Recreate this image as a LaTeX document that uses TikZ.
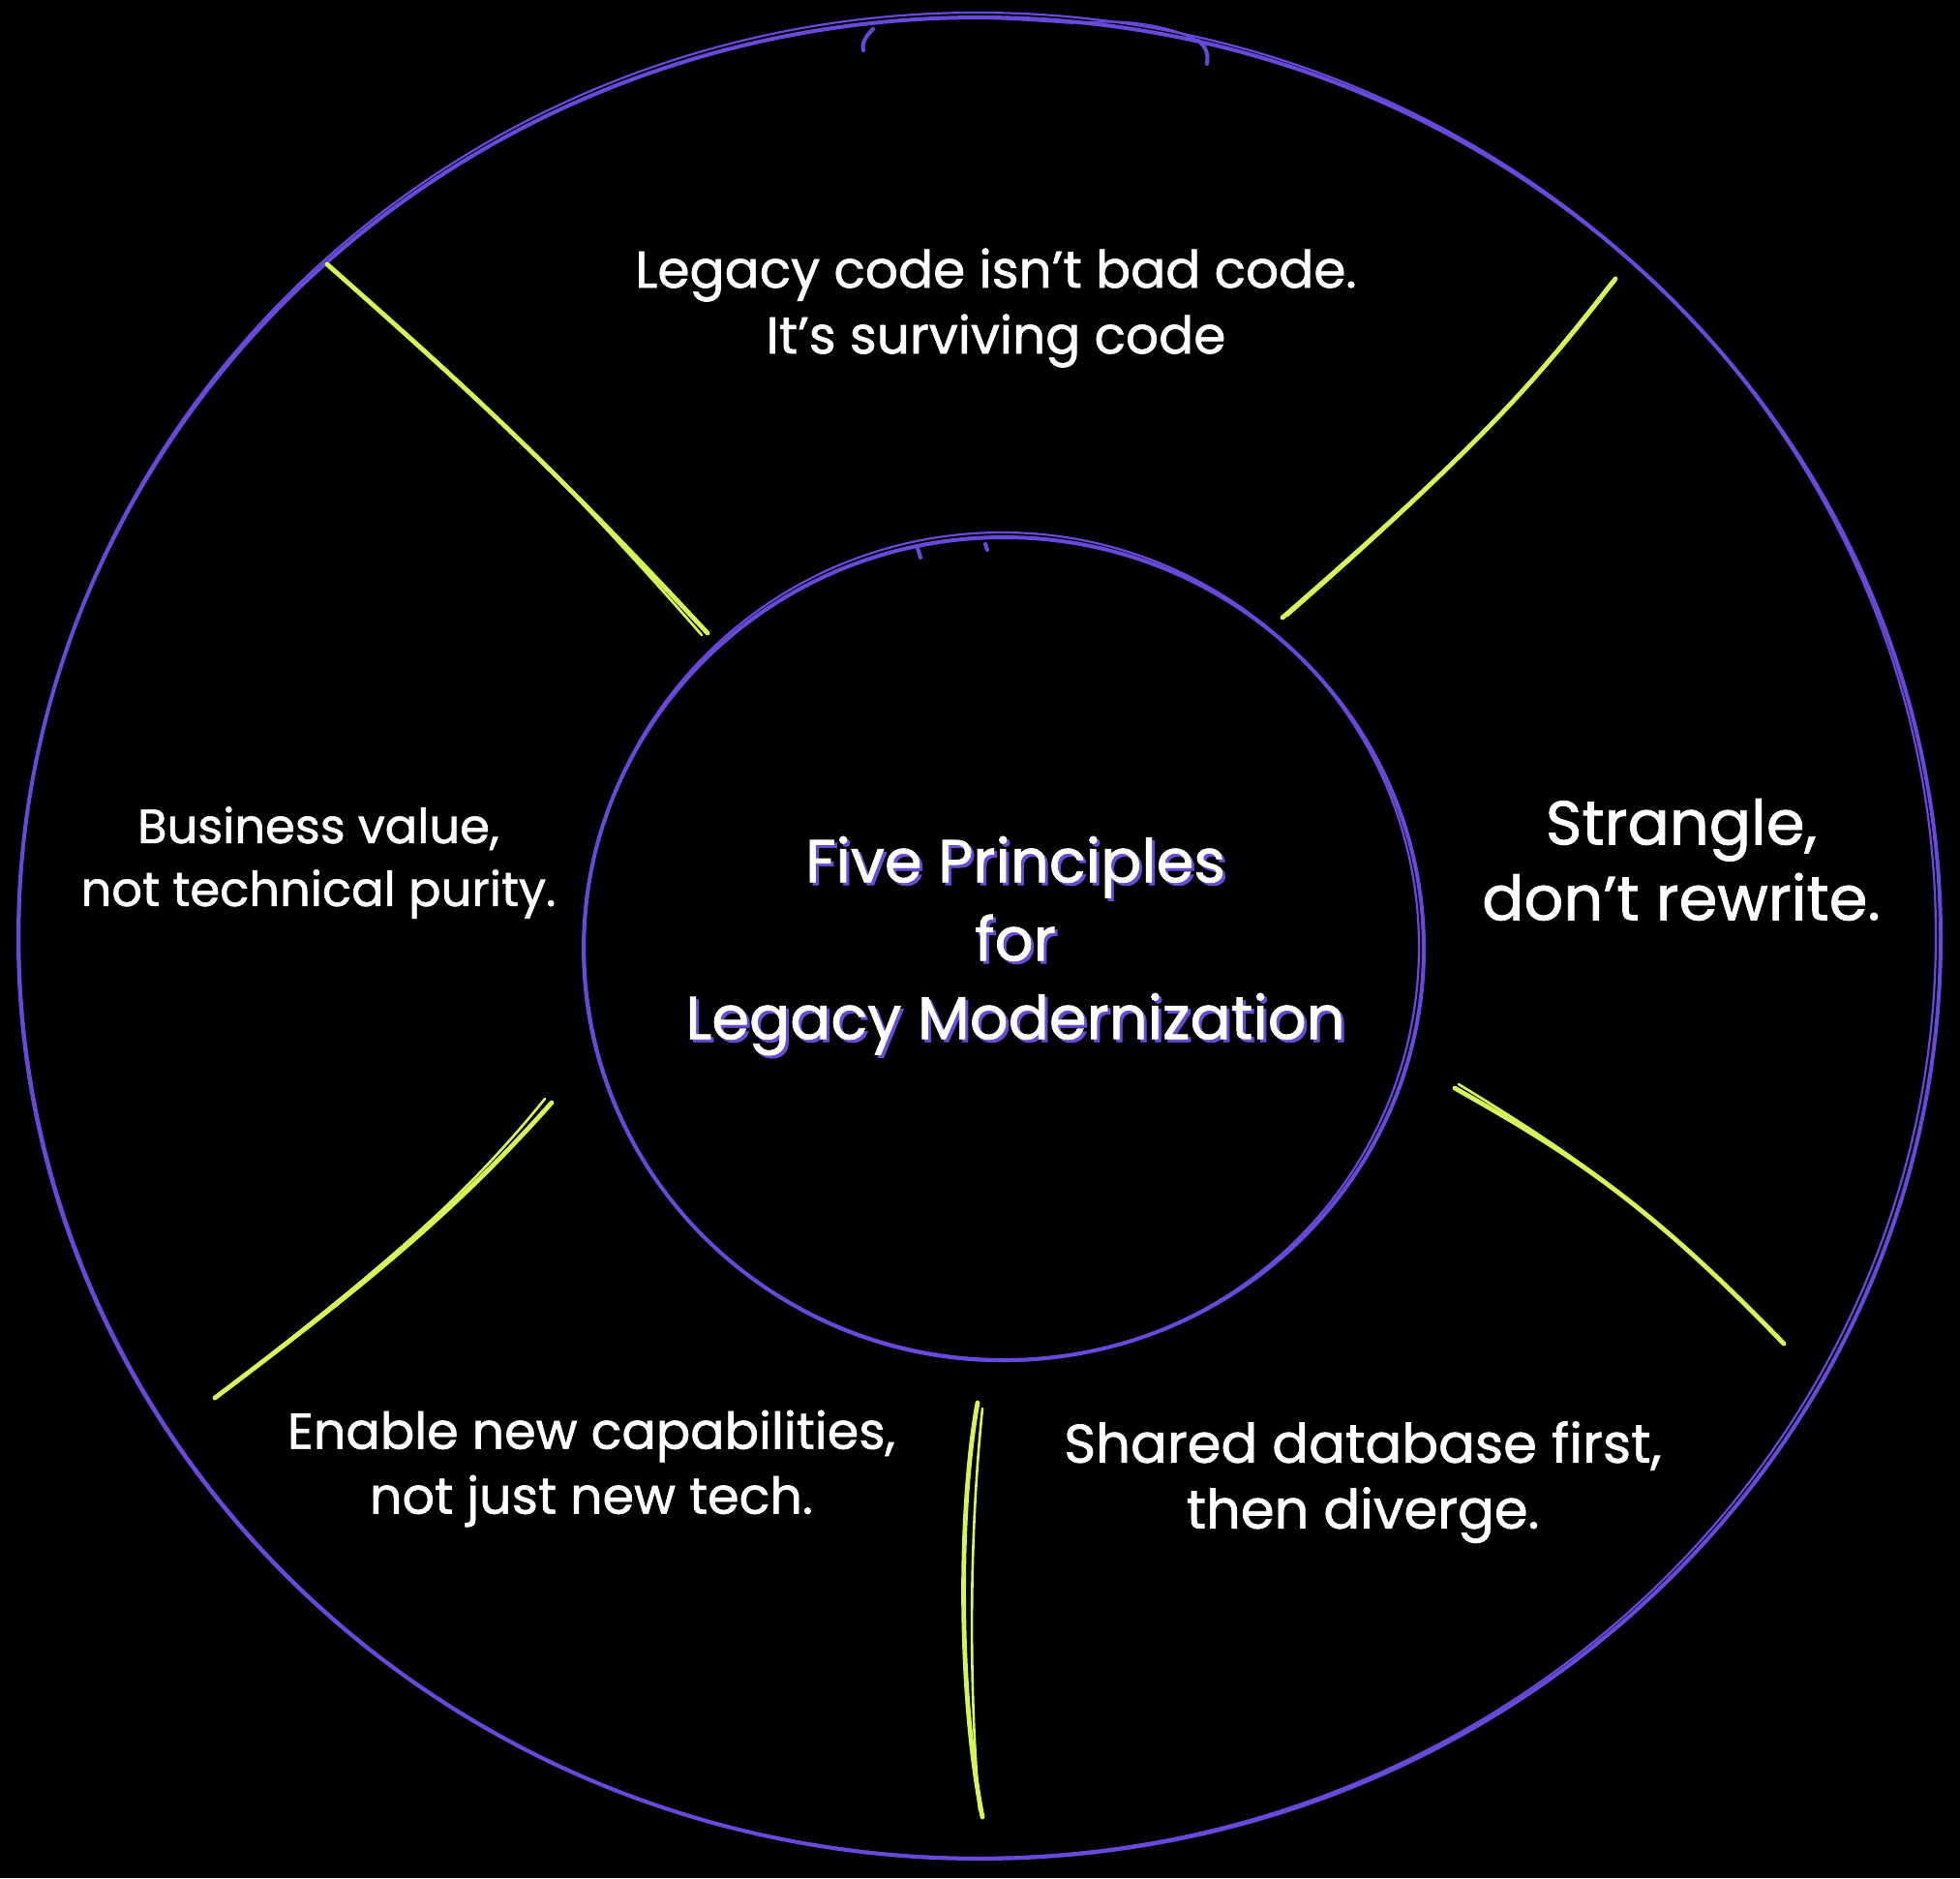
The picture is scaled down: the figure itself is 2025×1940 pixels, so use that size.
\documentclass[tikz,border=0pt]{standalone}
\usepackage{fontspec}
\setmainfont{Poppins}[FakeBold=1.2]
\definecolor{vio}{RGB}{105,72,220}
\definecolor{lime}{RGB}{214,246,88}
\tikzset{
  ring/.style={draw=vio, line width=2pt},
  thinring/.style={draw=vio, line width=1.1pt},
  spoke/.style={draw=lime, line width=2.4pt, line cap=round},
  spoke2/.style={draw=lime, line width=1.3pt, line cap=round},
  lbl/.style={text=white, align=center, inner sep=0pt},
}
\begin{document}
\begin{tikzpicture}[x=0.5pt,y=-0.5pt]
\fill[black] (0,0) rectangle (2025,1940);
\useasboundingbox (0,0) rectangle (2025,1940);
% outer ring
\draw[ring] (1012,969) ellipse [x radius=993, y radius=951];
\draw[thinring] (1010,966) ellipse [x radius=990, y radius=953];
\coordinate (h1a) at (902,30);
\coordinate (h1b) at (892,52);
\coordinate (h2a) at (1238,42);
\coordinate (h2b) at (1247,66);
\draw[ring, line cap=round] (h1a) .. controls (895,37) and (890,44) .. (h1b);
\draw[ring, line cap=round] (h2a) .. controls (1248,50) and (1248,58) .. (h2b);
\draw[thinring] (1115,24) .. controls (1170,18) and (1215,30) .. (h2a);
\draw[thinring] (905,24) .. controls (960,15) and (1030,18) .. (1110,24);
% inner ring
\draw[ring] (1037,980) ellipse [x radius=434, y radius=425];
\draw[thinring] (1035,978) ellipse [x radius=431, y radius=428];
\draw[ring, line cap=round] (948,566) -- (951,576);
\draw[ring, line cap=round] (1018,562) -- (1020,568);
% spokes
\coordinate (s1a) at (338,273); \coordinate (s1b) at (731,654);
\coordinate (s2a) at (1669,288); \coordinate (s2b) at (1325,638);
\coordinate (s3a) at (1503,1124); \coordinate (s3b) at (1843,1388);
\coordinate (s4a) at (1010,1449); \coordinate (s4b) at (1015,1877);
\coordinate (s5a) at (570,1139); \coordinate (s5b) at (222,1444);
\draw[spoke] (s1a) .. controls (470,390) and (560,470) .. (s1b);
\draw[spoke2] (341,276) .. controls (480,395) and (580,490) .. (725,656);
\draw[spoke] (s2a) .. controls (1590,390) and (1530,460) .. (s2b);
\draw[spoke2] (1666,290) .. controls (1580,400) and (1520,470) .. (1330,636);
\draw[spoke] (s3a) .. controls (1620,1190) and (1700,1240) .. (s3b);
\draw[spoke2] (1507,1120) .. controls (1630,1195) and (1710,1250) .. (1840,1386);
\draw[spoke] (s4a) .. controls (990,1560) and (990,1750) .. (s4b);
\draw[spoke2] (1015,1455) .. controls (1000,1600) and (1002,1760) .. (1012,1870);
\draw[spoke] (s5a) .. controls (480,1240) and (400,1310) .. (s5b);
\draw[spoke2] (563,1135) .. controls (470,1250) and (380,1320) .. (228,1440);
% labels
\node[lbl, font=\fontsize{26.7}{34}\selectfont] (t1) at (1029,318) {Legacy code isn't bad code.\\It's surviving code};
\node[lbl, font=\fontsize{32}{39}\selectfont] (t2) at (1737,888) {Strangle,\\don't rewrite.};
\node[lbl, font=\fontsize{24.8}{32.5}\selectfont] (t3) at (329,891) {Business value,\\not technical purity.};
\node[lbl, font=\fontsize{26.2}{33.5}\selectfont] (t4) at (611,1517) {Enable new capabilities,\\not just new tech.};
\node[lbl, font=\fontsize{28}{34}\selectfont] (t5) at (1408,1531) {Shared database first,\\then diverge.};
\node[lbl, text=vio, font=\fontsize{31.2}{40.5}\selectfont] (cs) at (1052,980) {Five Principles\\for\\Legacy Modernization};
\node[lbl, font=\fontsize{31.2}{40.5}\selectfont] (c) at (1049,977) {Five Principles\\for\\Legacy Modernization};
\end{tikzpicture}
\end{document}
